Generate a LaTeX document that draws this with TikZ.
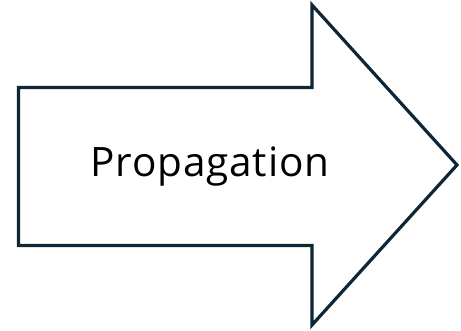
\documentclass[tikz,border=0pt]{standalone}
\usepackage{fontspec}
\setmainfont{Open Sans}
\definecolor{arrowline}{RGB}{16,38,52}
\begin{document}
\begin{tikzpicture}[x=1pt,y=1pt]
    % Área total da figura
    \useasboundingbox (0,0) rectangle (461,331);

    % Seta grande (corpo e ponta)
    \draw[line width=3.2pt, draw=arrowline, fill=white, line join=miter]
        (18.5,243.5) -- (312,243.5) -- (312,326) -- (457,166)
        -- (312,6) -- (312,85.5) -- (18.5,85.5) -- cycle; % Contorno da seta

    % Texto dentro da seta
    \node[anchor=base, inner sep=0pt, font=\fontsize{40.5}{46}\selectfont\addfontfeature{LetterSpace=2}]
        (rotulo) at (210,154) {Propagation}; % Rótulo da seta
\end{tikzpicture}
\end{document}
